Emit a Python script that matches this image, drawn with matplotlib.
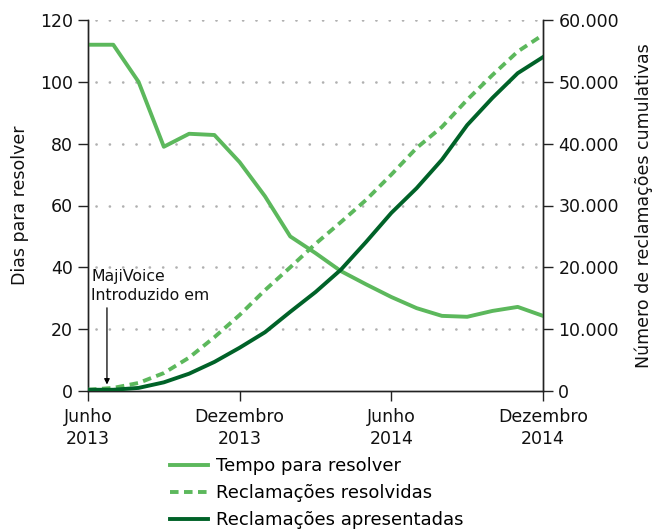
import matplotlib
matplotlib.use("Agg")
import matplotlib.pyplot as plt
from matplotlib.ticker import FuncFormatter

# ---- data ----
months = ["Jun 2013", "Jul 2013", "Ago 2013", "Set 2013", "Out 2013", "Nov 2013", "Dez 2013",
          "Jan 2014", "Fev 2014", "Mar 2014", "Abr 2014", "Mai 2014", "Jun 2014",
          "Jul 2014", "Ago 2014", "Set 2014", "Out 2014", "Nov 2014", "Dez 2014"]
tempo = [112, 112, 100, 79, 83.2, 82.8, 74, 63, 50, 44.6, 38.8, 34.5, 30.4,
         26.8, 24.3, 24.0, 25.9, 27.2, 24.3]
resolvidas = [200, 500, 1300, 2900, 5400, 8700, 12300, 16300, 20000, 23800, 27300,
              30900, 35000, 39300, 42700, 47100, 51100, 54900, 57600]
apresentadas = [200, 200, 500, 1400, 2800, 4700, 7000, 9500, 12800, 16000, 19600,
                24100, 28800, 32800, 37400, 43000, 47400, 51400, 54000]
xtick_pos = [0, 6, 12, 18]
xtick_labels = ["Junho\n2013", "Dezembro\n2013", "Junho\n2014", "Dezembro\n2014"]
left_ticks = [0, 20, 40, 60, 80, 100, 120]
right_ticks = [0, 10000, 20000, 30000, 40000, 50000, 60000]

light = "#5cb85c"
dark = "#006228"
axc = "#222222"

plt.rcParams["font.family"] = ["DejaVu Sans"]

fig = plt.figure(figsize=(6.61, 5.32), dpi=100)
ax = fig.add_axes([88/661, 1-391/532, (543-88)/661, (391-20)/532])
ax2 = ax.twinx()

x = list(range(len(months)))

for yv in left_ticks[1:]:
    ax.plot([0.3, 18], [yv, yv], color="#b0b0b0", lw=1.9, linestyle=(0, (0.05, 5.0)),
            dash_capstyle="round", zorder=1)

l1, = ax.plot(x, tempo, color=light, lw=2.8, zorder=3)
l2, = ax2.plot(x, resolvidas, color=light, lw=2.8, linestyle=(0, (2.2, 1.4)), zorder=3)
l3, = ax2.plot(x, apresentadas, color=dark, lw=2.8, zorder=4)

ax.set_xlim(0, 18)
ax.set_ylim(0, 120)
ax2.set_ylim(0, 60000)

ax.set_yticks(left_ticks)
ax2.set_yticks(right_ticks)
ax2.yaxis.set_major_formatter(FuncFormatter(lambda v, p: f"{int(v):,}".replace(",", ".")))
ax.set_xticks(xtick_pos)
ax.set_xticklabels(xtick_labels, linespacing=1.3)

for a in (ax, ax2):
    a.spines["top"].set_visible(False)
    for s in a.spines.values():
        s.set_color(axc)
        s.set_linewidth(1.0)
    a.tick_params(colors=axc, labelcolor="#111111", labelsize=12.5, length=7, width=1.0)
ax.tick_params(axis="x", pad=5)
ax.tick_params(axis="y", pad=4)
ax2.tick_params(axis="y", pad=4)

ax.set_ylabel("Dias para resolver", fontsize=12.5, color="#111111", labelpad=8)
ax2.set_ylabel("Número de reclamações cumulativas", fontsize=12.5, color="#111111", labelpad=11)

ax.annotate("", xy=(0.75, 1.2), xytext=(0.75, 27.8),
            arrowprops=dict(arrowstyle="-|>", color="black", lw=0.9, mutation_scale=8))
ax.text(0.12, 39.3, "MajiVoice\nIntroduzido em", fontsize=11.3, color="#111111",
        va="top", ha="left", linespacing=1.3)

fig.legend([l1, l2, l3], ["Tempo para resolver", "Reclamações resolvidas", "Reclamações apresentadas"],
           loc="upper left", bbox_to_anchor=(170/661, 1-457/532), frameon=False,
           fontsize=13, handlelength=2.1, handletextpad=0.45, labelspacing=0.5,
           borderpad=0, borderaxespad=0)

fig.savefig("out.png", dpi=100)
